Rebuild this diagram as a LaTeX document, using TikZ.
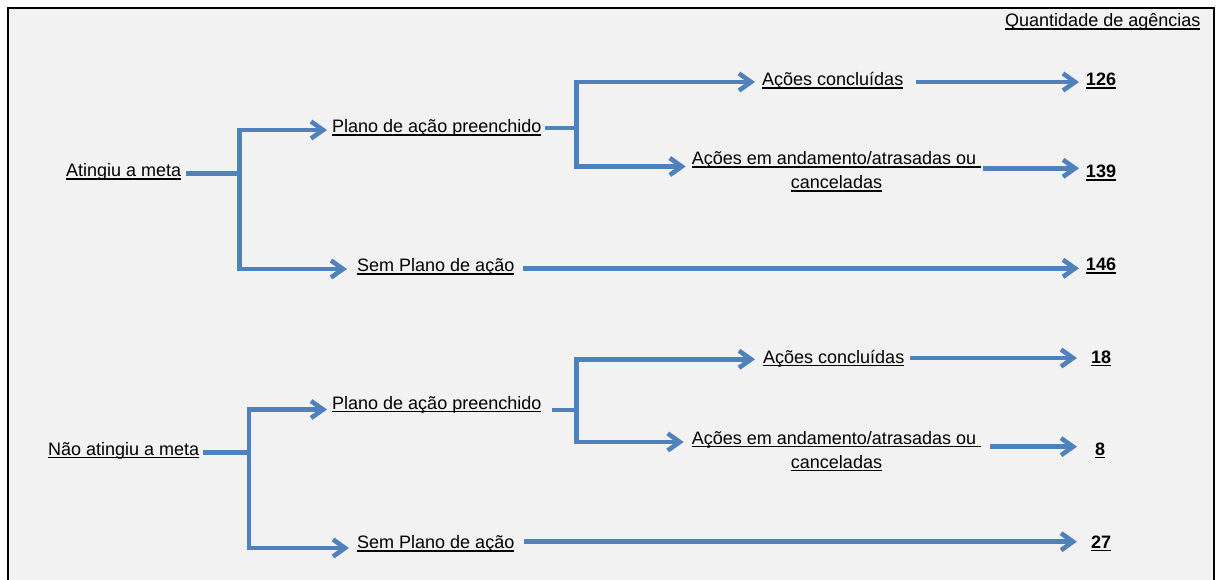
\documentclass[tikz,border=0pt]{standalone}
\usepackage{fontspec}
\setmainfont{Liberation Sans}
\usetikzlibrary{arrows.meta}
\definecolor{arrblue}{RGB}{79,129,189}
\definecolor{bgfill}{RGB}{242,242,242}
\newsavebox\ulbox
\newcommand\ulx[1]{\sbox\ulbox{#1}\rlap{\rule[-3.2pt]{\wd\ulbox}{1.7pt}}\usebox\ulbox}
\begin{document}
\begin{tikzpicture}[x=1pt,y=-1pt,
  lbl/.style={inner sep=0pt, font=\fontsize{18}{24}\selectfont},
  numlbl/.style={inner sep=0pt, font=\fontsize{18}{24}\selectfont\bfseries},
  conn/.style={draw=arrblue, line width=4.6pt, line join=miter},
  arr/.style={conn, -{Straight Barb[length=12pt,width=17pt]}}]

\useasboundingbox (0,0) rectangle (1216,580);
\fill[white] (0,0) rectangle (1216,580);
\fill[bgfill] (8,8) rectangle (1214,580);
\draw[line width=2pt] (8,582) -- (8,8) -- (1214,8) -- (1214,582);

\node[lbl,anchor=base west] (qa) at (1005,27) {\ulx{Quantidade de agências}};

% ---------- top section ----------
\node[lbl,anchor=base west] (atg) at (66,177) {\ulx{Atingiu a meta}};
\node[lbl,anchor=base west] (pl1) at (332,133) {\ulx{Plano de ação preenchido}};
\node[lbl,anchor=base west] (sem1) at (357,272) {\ulx{Sem Plano de ação}};
\node[lbl,anchor=base west] (co1) at (762,86) {\ulx{Ações concluídas}};
\node[lbl,anchor=base] (an1) at (836.5,165) {\begin{tabular}[t]{@{}c@{}}\ulx{Ações em andamento/atrasadas ou\ }\\\ulx{canceladas}\end{tabular}};
\node[numlbl,anchor=base] (n126) at (1101,86) {\ulx{126}};
\node[numlbl,anchor=base] (n139) at (1101,178) {\ulx{139}};
\node[numlbl,anchor=base] (n146) at (1101,271) {\ulx{146}};

\coordinate (v1) at (239.5,0);
\coordinate (v2) at (576.5,0);
\coordinate (tipA) at (1079,0);

\coordinate (atgout) at ([xshift=5pt,yshift=3.7pt]atg.base east);
\coordinate (pl1in) at ([xshift=-5pt,yshift=3pt]pl1.base west);
\coordinate (sem1in) at ([xshift=-10pt,yshift=3pt]sem1.base west);
\coordinate (pl1out) at ([xshift=3pt,yshift=5pt]pl1.base east);
\coordinate (co1in) at ([xshift=-7pt,yshift=4pt]co1.base west);
\coordinate (an1in) at ([xshift=-6pt,yshift=-1.5pt]an1.base west);
\coordinate (co1out) at ([xshift=13pt,yshift=4pt]co1.base east);
\coordinate (an1out) at ([xshift=2pt,yshift=-3.3pt]an1.base east);
\coordinate (sem1out) at ([xshift=8pt,yshift=3.7pt]sem1.base east);

\draw[conn] (atgout) -- (atgout -| v1);
\draw[arr] (v1 |- sem1in) -- (v1 |- pl1in) -- (pl1in);
\draw[arr] (v1 |- pl1in) -- (v1 |- sem1in) -- (sem1in);
\draw[conn] (pl1out) -- (pl1out -| v2);
\draw[arr] (v2 |- an1in) -- (v2 |- co1in) -- (co1in);
\draw[arr] (v2 |- co1in) -- (v2 |- an1in) -- (an1in);
\draw[arr] (co1out) -- (co1out -| tipA);
\draw[arr] (an1out) -- (an1out -| tipA);
\draw[arr] (sem1out) -- (sem1out -| tipA);

% ---------- bottom section ----------
\node[lbl,anchor=base west] (nao) at (48,455) {\ulx{Não atingiu a meta}};
\node[lbl,anchor=base west] (pl2) at (332,409) {\ulx{Plano de ação preenchido}};
\node[lbl,anchor=base west] (sem2) at (357,548.5) {\ulx{Sem Plano de ação}};
\node[lbl,anchor=base west] (co2) at (763,363) {\ulx{Ações concluídas}};
\node[lbl,anchor=base] (an2) at (836.5,444) {\begin{tabular}[t]{@{}c@{}}\ulx{Ações em andamento/atrasadas ou\ }\\\ulx{canceladas}\end{tabular}};
\node[numlbl,anchor=base] (n18) at (1101,363) {\ulx{18}};
\node[numlbl,anchor=base] (n8) at (1100,455) {\ulx{8}};
\node[numlbl,anchor=base] (n27) at (1101,548) {\ulx{27}};

\coordinate (v3) at (249,0);
\coordinate (v4) at (576.5,0);
\coordinate (tipB) at (1077,0);

\coordinate (naoout) at ([xshift=4pt,yshift=2.3pt]nao.base east);
\coordinate (pl2in) at ([xshift=-5pt,yshift=-0.5pt]pl2.base west);
\coordinate (sem2in) at ([xshift=-8pt,yshift=0.5pt]sem2.base west);
\coordinate (pl2out) at ([xshift=10pt,yshift=-1pt]pl2.base east);
\coordinate (co2in) at ([xshift=-8pt,yshift=3.7pt]co2.base west);
\coordinate (an2in) at ([xshift=-8pt,yshift=2pt]an2.base west);
\coordinate (co2out) at ([xshift=6pt,yshift=5pt]co2.base east);
\coordinate (an2out) at ([xshift=9pt,yshift=-2.7pt]an2.base east);
\coordinate (sem2out) at ([xshift=9pt,yshift=6.8pt]sem2.base east);

\draw[conn] (naoout) -- (naoout -| v3);
\draw[arr] (v3 |- sem2in) -- (v3 |- pl2in) -- (pl2in);
\draw[arr] (v3 |- pl2in) -- (v3 |- sem2in) -- (sem2in);
\draw[conn] (pl2out) -- (pl2out -| v4);
\draw[arr] (v4 |- an2in) -- (v4 |- co2in) -- (co2in);
\draw[arr] (v4 |- co2in) -- (v4 |- an2in) -- (an2in);
\draw[arr] (co2out) -- (co2out -| tipB);
\draw[arr] (an2out) -- (an2out -| tipB);
\draw[arr] (sem2out) -- (sem2out -| tipB);
\end{tikzpicture}
\end{document}
